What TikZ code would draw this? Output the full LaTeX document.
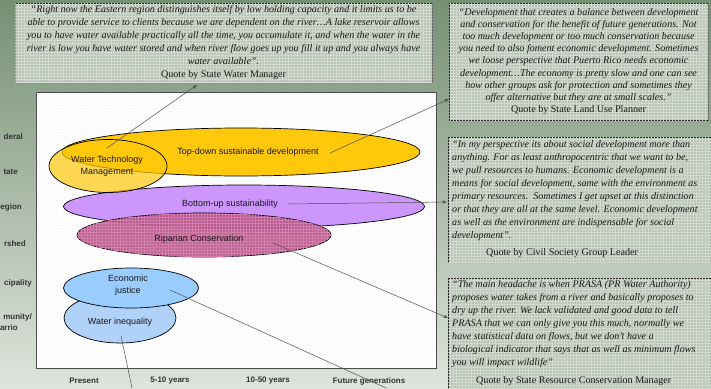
\documentclass[tikz,border=0pt]{standalone}
\usepackage{fontspec}
\setmainfont{Liberation Serif}
\setsansfont{Liberation Sans}
\usetikzlibrary{shapes.geometric,arrows.meta,patterns}
\definecolor{bgtop}{RGB}{118,144,116}
\definecolor{bgmid}{RGB}{170,186,166}
\definecolor{bgbot}{RGB}{222,228,220}
\definecolor{boxfill}{RGB}{184,196,180}
\definecolor{ylw}{RGB}{255,200,10}
\definecolor{purp}{RGB}{204,150,252}
\definecolor{ripa}{RGB}{180,80,134}
\definecolor{ripl}{RGB}{210,125,170}
\definecolor{ecj}{RGB}{153,204,255}
\definecolor{wiq}{RGB}{176,210,248}
\definecolor{txt}{RGB}{25,25,25}
\definecolor{conncol}{RGB}{80,80,80}
\begin{document}
\begin{tikzpicture}[x=1pt,y=-1pt,
  qbox/.style={draw=black!85,line width=0.9pt,fill=boxfill,anchor=north west,inner sep=0pt,
    postaction={pattern=grid,pattern color=white!35!boxfill}},
  qt/.style={font=\fontsize{10.1}{13}\selectfont\itshape,text=txt,inner sep=0pt},
  ell/.style={ellipse,draw=black,line width=0.7pt,inner sep=0pt},
  etext/.style={font=\sffamily\fontsize{9}{11.5}\selectfont,text=txt,align=center,text opacity=1},
  lab/.style={font=\sffamily\bfseries\fontsize{8}{10}\selectfont,text=black!80,inner sep=0pt},
  conn/.style={draw=conncol,line width=0.5pt},
  arr/.style={conn,-{Latex[length=4pt,width=3.5pt]}}]
\useasboundingbox (0,0) rectangle (711,388);
\shade[top color=bgtop,middle color=bgmid,bottom color=bgbot] (0,0) rectangle (711,388);

% quote boxes
\node[qbox,minimum width=417pt,minimum height=79pt] (q1) at (15,3) {};
\node[qbox,minimum width=259pt,minimum height=117pt] (q2) at (449,3) {};
\node[qbox,minimum width=270pt,minimum height=125pt] (q3) at (448,137) {};
\node[qbox,minimum width=270pt,minimum height=120pt] (q4) at (448,278) {};

\node[qt,align=center] (t1) at (223.5,42.5) {%
“Right now the Eastern region distinguishes itself by low holding capacity and it limits us to be\\
able to provide service to clients because we are dependent on the river…A lake reservoir allows\\
you to have water available practically all the time, you accumulate it, and when the water in the\\
river is low you have water stored and when river flow goes up you fill it up and you always have\\
water available”.\\
\upshape Quote by State Water Manager};

\node[qt,align=center,font=\fontsize{10.1}{12.2}\selectfont\itshape] (t2) at (578.5,61.5) {%
“Development that creates a balance between development\\
and conservation for the benefit of future generations. Not\\
too much development or too much conservation because\\
you need to also foment economic development. Sometimes\\
we loose perspective that Puerto Rico needs economic\\
development…The economy is pretty slow and one can see\\
how other groups ask for protection and sometimes they\\
offer alternative but they are at small scales.”\\
\upshape Quote by State Land Use Planner};

\node[qt,align=left,anchor=north west] (t3) at (452,140) {%
“In my perspective its about social development more than\\
anything. For as least anthropocentric that we want to be,\\
we pull resources to humans. Economic development is a\\
means for social development, same with the environment as\\
primary resources.\ \ Sometimes I get upset at this distinction\\
or that they are all at the same level. Economic development\\
as well as the environment are indispensable for social\\
development”.\\[4pt]
\upshape\hspace*{34pt}Quote by Civil Society Group Leader};

\node[qt,align=left,anchor=north west] (t4) at (452,280) {%
“The main headache is when PRASA (PR Water Authority)\\
proposes water takes from a river and basically proposes to\\
dry up the river. We lack validated and good data to tell\\
PRASA that we can only give you this much, normally we\\
have statistical data on flows, but we don’t have a\\
biological indicator that says that as well as minimum flows\\
you will impact wildlife”\\[5pt]
\upshape\hspace*{24pt}Quote by State Resource Conservation Manager};

% chart area
\node[draw=black!70,line width=0.8pt,fill=white,anchor=north west,inner sep=0pt,
  minimum width=400pt,minimum height=276pt,
  postaction={pattern=dots,pattern color=black!12}] (chart) at (36,92) {};

% ellipses
\node[ell,fill=ylw,minimum width=358pt,minimum height=48pt] (td) at (241,152) {};
\node[etext] (tdt) at (248,152) {Top-down sustainable development};
\node[ell,fill=purp,minimum width=361pt,minimum height=43pt] (bu) at (244,206.5) {};
\node[etext] (but) at (230,204) {Bottom-up sustainability};
\node[ell,fill=ripa,fill opacity=0.88,minimum width=254pt,minimum height=44pt,
  postaction={pattern=grid,pattern color=ripl}] (rc) at (204,235) {};
\node[etext] (rct) at (199,239.5) {Riparian Conservation};
\node[ell,fill=ylw,fill opacity=0.7,minimum width=118pt,minimum height=53pt] (wtm) at (108,166) {};
\node[etext] (wtmt) at (107,166) {Water Technology\\Management};
\node[ell,fill=wiq,minimum width=112pt,minimum height=50pt] (wi) at (120,318) {};
\node[etext] (wit) at (120,322) {Water inequality};
\node[ell,fill=ecj,minimum width=135pt,minimum height=40pt] (ej) at (131,288) {};
\node[etext] (ejt) at (128,285) {Economic\\justice};

% scale labels
\node[lab,anchor=east] (l1) at (23,137) {deral};
\node[lab,anchor=east] (l2) at (18,172) {tate};
\node[lab,anchor=east] (l3) at (22,207) {egion};
\node[lab,anchor=east] (l4) at (26,244) {rshed};
\node[lab,anchor=east] (l5) at (32,283) {cipality};
\node[lab,anchor=east] (l6) at (32,317) {munity/};
\node[lab,anchor=east] (l7) at (18,328) {arrio};

\node[lab] (b1) at (84,381) {Present};
\node[lab] (b2) at (170,381) {5-10 years};
\node[lab] (b3) at (268,381) {10-50 years};
\node[lab] (b4) at (369,381) {Future generations};

% connectors
\coordinate (c1s) at (107,148); \coordinate (c1e) at (197,85);
\coordinate (c2s) at (330,153); \coordinate (c2e) at (449,99);
\coordinate (c3s) at (288,204); \coordinate (c3e) at (447,202);
\coordinate (c4s) at (273,243); \coordinate (c4e) at (448,318);
\coordinate (c5s) at (170,290); \coordinate (c5e) at (386,388);
\coordinate (c6s) at (121,336); \coordinate (c6e) at (132,388);
\draw[arr] (c1s) -- (c1e);
\draw[arr] (c2s) -- (c2e);
\draw[arr] (c3s) -- (c3e);
\draw[arr] (c4s) -- (c4e);
\draw[conn] (c5s) -- (c5e);
\draw[conn] (c6s) -- (c6e);
\end{tikzpicture}
\end{document}
